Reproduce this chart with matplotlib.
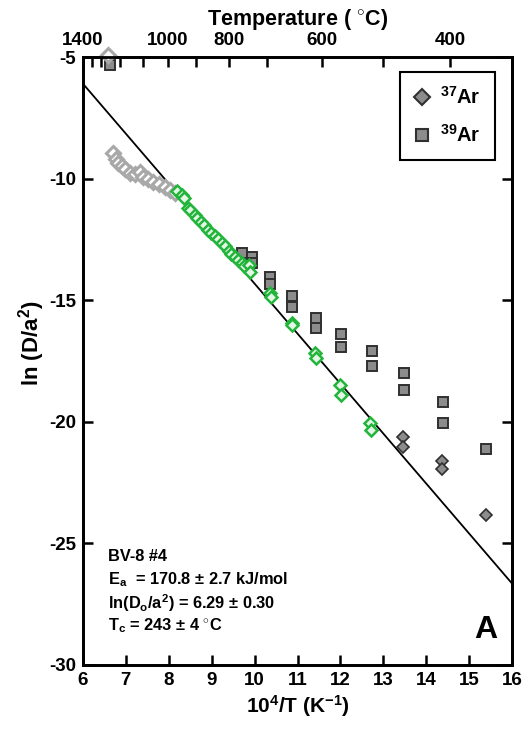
import matplotlib
matplotlib.use("Agg")
import matplotlib.pyplot as plt
from matplotlib.lines import Line2D

plt.rcParams['font.family'] = ['Liberation Sans', 'DejaVu Sans']
plt.rcParams['font.weight'] = 'bold'
plt.rcParams['axes.unicode_minus'] = False
plt.rcParams['mathtext.fontset'] = 'custom'
plt.rcParams['mathtext.rm'] = 'Liberation Sans:bold'
plt.rcParams['mathtext.it'] = 'Liberation Sans:bold'
plt.rcParams['mathtext.bf'] = 'Liberation Sans:bold'

# --- data ---
# early (low-T) steps, hollow grey diamonds
early_x = [6.58, 6.69, 6.77, 6.82, 6.90, 6.98, 7.10, 7.21, 7.33, 7.39, 7.52, 7.64, 7.78, 7.91, 8.03, 8.14]
early_y = [-4.92, -8.96, -9.21, -9.35, -9.48, -9.62, -9.76, -9.82, -9.74, -9.92, -10.03, -10.12, -10.22, -10.33, -10.47, -10.58]

# steps used for the fit, hollow green diamonds
fit_x = [8.20, 8.30, 8.36, 8.45, 8.50, 8.60, 8.66, 8.76, 8.82, 8.92, 8.98, 9.08, 9.14, 9.24,
         9.30, 9.40, 9.46, 9.55, 9.62, 9.70, 9.75, 9.88, 9.90, 10.36, 10.38, 10.86, 10.88,
         11.41, 11.43, 11.99, 12.01, 12.69, 12.71]
fit_y = [-10.52, -10.68, -10.80, -11.20, -11.30, -11.50, -11.62, -11.80, -11.90, -12.10, -12.22,
         -12.38, -12.50, -12.66, -12.78, -12.96, -13.08, -13.22, -13.36, -13.45, -13.60, -13.55,
         -13.85, -14.70, -14.85, -15.93, -16.02, -17.18, -17.39, -18.49, -18.90, -20.06, -20.34]

# 37Ar, late steps
ar37_x = [13.47, 13.47, 14.37, 14.37, 15.39]
ar37_y = [-20.61, -21.02, -21.60, -21.94, -23.83]

# 39Ar
ar39_x = [6.63, 9.70, 9.93, 9.93, 10.36, 10.36, 10.87, 10.87, 11.43, 11.43, 12.01, 12.01,
          12.73, 12.73, 13.48, 13.48, 14.38, 14.38, 15.39]
ar39_y = [-5.33, -13.07, -13.21, -13.49, -14.03, -14.35, -14.83, -15.27, -15.74, -16.13,
          -16.40, -16.91, -17.08, -17.71, -18.01, -18.69, -19.17, -20.06, -21.12]

# Arrhenius fit line
line_x = [6.0, 16.0]
line_y = [-6.10, -26.65]

# top axis (temperature) tick positions on the 10^4/T scale
top_pos = [6.0, 6.2, 6.42, 6.86, 7.40, 7.98, 8.63, 9.40, 10.29, 11.57, 12.99, 14.55]
top_lab = ['1400', '', '', '', '', '1000', '', '800', '', '600', '', '400']

fig = plt.figure(figsize=(5.31, 7.29), dpi=100)
ax = fig.add_axes([0.1563, 0.0878, 0.808, 0.834])

ax.plot(line_x, line_y, color='black', lw=1.3, zorder=1)

ax.plot(ar39_x, ar39_y, 's', ms=7, mfc='#8c8c8c', mec='#303030', mew=1.4, zorder=2, clip_on=False)
ax.plot(ar37_x, ar37_y, 'D', ms=6.5, mfc='#8c8c8c', mec='#303030', mew=1.2, zorder=2)
ax.plot(early_x, early_y, 'D', ms=6.8, mfc='white', mec='#a8a8a8', mew=2.2, zorder=3, clip_on=False)
ax.plot(fit_x, fit_y, 'D', ms=6.5, mfc='#e4f7e4', mec='#22b53c', mew=1.8, zorder=4)

ax.set_xlim(6, 16)
ax.set_ylim(-30, -5)
ax.set_xticks(range(6, 17))
ax.set_yticks([-30, -25, -20, -15, -10, -5])
ax.tick_params(direction='in', length=7.5, width=1.8, labelsize=13.5, right=True, pad=5)
for lab in ax.get_xticklabels() + ax.get_yticklabels():
    lab.set_fontweight('bold')
for s in ax.spines.values():
    s.set_linewidth(2)

ax.set_xlabel(r'10$^{4}$/T (K$^{-1}$)', fontsize=15, fontweight='bold', labelpad=3)
ax.set_ylabel(r'ln (D/a$^{2}$)', fontsize=16, fontweight='bold')
ax.yaxis.set_label_coords(-0.084, 0.53)

ax2 = ax.twiny()
ax2.set_xlim(6, 16)
ax2.set_xticks(top_pos)
ax2.set_xticklabels(top_lab, fontsize=13.5, fontweight='bold')
ax2.tick_params(direction='in', length=7.5, width=1.8, pad=6)
for s in ax2.spines.values():
    s.set_linewidth(2)
ax2.set_xlabel('Temperature ( $^{\\circ}$C)', fontsize=15.5, fontweight='bold', labelpad=5)

handles = [Line2D([], [], ls='none', marker='D', ms=8.5, mfc='#8c8c8c', mec='#303030', mew=1.5),
           Line2D([], [], ls='none', marker='s', ms=8.5, mfc='#8c8c8c', mec='#303030', mew=1.5)]
leg = ax.legend(handles, [r'$^{37}$Ar', r'$^{39}$Ar'], loc='upper right',
                bbox_to_anchor=(0.960, 0.975), borderaxespad=0, fancybox=False,
                edgecolor='black', framealpha=1, handlelength=0.8, handletextpad=0.5,
                labelspacing=0.8, borderpad=0.7, prop={'weight': 'bold', 'size': 14.5})
leg.get_frame().set_linewidth(1.5)

ax.text(0.058, 0.178, 'BV-8 #4', transform=ax.transAxes, fontsize=11.8, fontweight='bold', va='center')
ax.text(0.058, 0.141, r'E$_{a}$  = 170.8 $\pm$ 2.7 kJ/mol', transform=ax.transAxes,
        fontsize=11.8, fontweight='bold', va='center')
ax.text(0.058, 0.102, r'ln(D$_{o}$/a$^{2}$) = 6.29 $\pm$ 0.30', transform=ax.transAxes,
        fontsize=11.8, fontweight='bold', va='center')
ax.text(0.058, 0.064, r'T$_{c}$ = 243 $\pm$ 4 $^{\circ}$C', transform=ax.transAxes,
        fontsize=11.8, fontweight='bold', va='center')
ax.text(0.939, 0.058, 'A', transform=ax.transAxes, fontsize=23, fontweight='bold',
        ha='center', va='center')

fig.savefig('out.png', dpi=100)
